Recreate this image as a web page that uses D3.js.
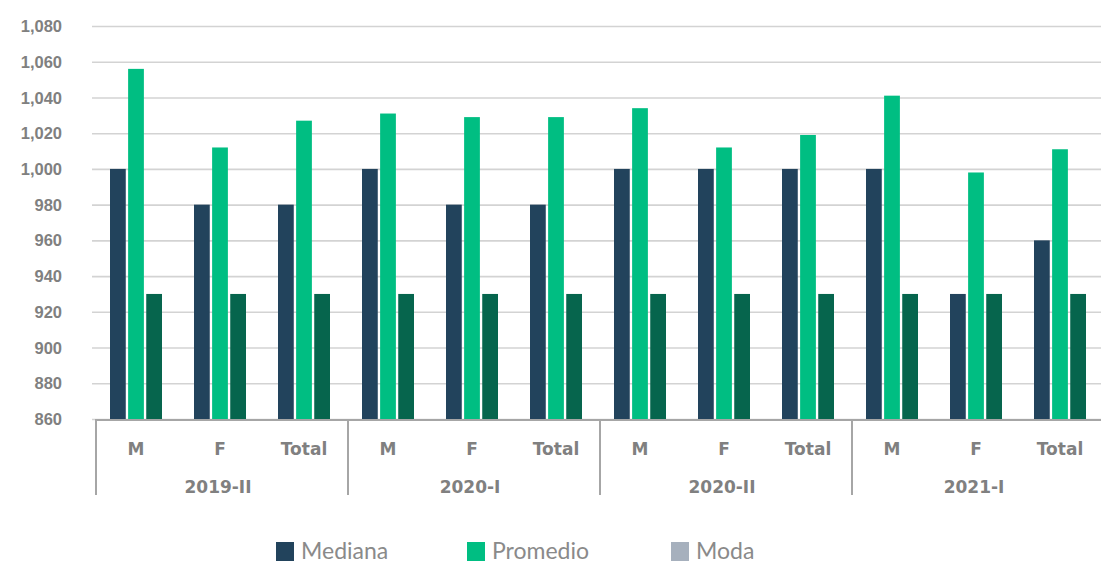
<!DOCTYPE html>
<html>
<head>
<meta charset="utf-8">
<script src="https://cdn.jsdelivr.net/npm/d3@7"></script>
<style>
  body { margin: 0; background: #fff; }
  svg { display: block; font-family: "DejaVu Sans", sans-serif; }
</style>
</head>
<body>
<div id="chart"></div>
<script>
// Data
const groups = ["2019-II", "2020-I", "2020-II", "2021-I"];
const subcats = ["M", "F", "Total"];
const series = ["Mediana", "Promedio", "Moda"];
const mediana = [1000, 980, 980, 1000, 980, 980, 1000, 1000, 1000, 1000, 930, 960];
const promedio = [1056, 1012, 1027, 1031, 1029, 1029, 1034, 1012, 1019, 1041, 998, 1011];
const moda = [930, 930, 930, 930, 930, 930, 930, 930, 930, 930, 930, 930];
const yTicks = [860, 880, 900, 920, 940, 960, 980, 1000, 1020, 1040, 1060, 1080];

const barColors = ["#22435c", "#00be82", "#06654d"];
const legendColors = ["#22435c", "#00be82", "#a6b0bd"];

const w = 1101, h = 564;
const x_left = 96, x_right = 1104;
const y_top = 26, y_bottom = 419;

const svg = d3.select("#chart").append("svg")
    .attr("width", w)
    .attr("height", h);

// one row per category (group x subcat)
const rows = [];
groups.forEach((g, gi) => {
    subcats.forEach((s, si) => {
        const i = gi * subcats.length + si;
        rows.push({ key: g + "|" + s, group: g, sub: s, vals: [mediana[i], promedio[i], moda[i]] });
    });
});

const x0 = d3.scaleBand()
    .domain(rows.map(d => d.key))
    .range([x_left, x_right]);

// cluster of 3 bars, 15px wide each
const x1 = d3.scaleBand()
    .domain(series)
    .range([0, 52])
    .paddingInner(0.13);

const yScale = d3.scaleLinear()
    .domain([860, 1080])
    .range([y_bottom, y_top]);

// gridlines
const yAxis = d3.axisLeft(yScale)
    .tickValues(yTicks)
    .tickSize(-(w - 92))
    .tickFormat(d3.format(","));

const gy = svg.append("g")
    .attr("transform", "translate(92,0)")
    .call(yAxis);
gy.select(".domain").remove();
gy.selectAll(".tick line")
    .attr("stroke", "#d3d3d3")
    .attr("stroke-width", 1.6);
gy.selectAll(".tick text")
    .attr("x", -30)
    .attr("dy", "0.34em")
    .attr("fill", "#808080")
    .attr("font-size", 16.5)
    .attr("font-weight", 700);

// bars
const clusterOffset = (x0.bandwidth() - 52) / 2 - 2;
const cat = svg.append("g")
    .selectAll("g")
    .data(rows)
    .enter()
    .append("g")
    .attr("transform", d => "translate(" + (x0(d.key) + clusterOffset) + ",0)");

cat.selectAll("rect")
    .data(d => d.vals.map((v, i) => ({ s: series[i], v: v, i: i })))
    .enter()
    .append("rect")
        .attr("x", d => x1(d.s))
        .attr("width", x1.bandwidth())
        .attr("y", d => yScale(d.v))
        .attr("height", d => yScale(860) - yScale(d.v))
        .attr("fill", d => barColors[d.i]);

// category axis
svg.append("line")
    .attr("x1", x_left).attr("x2", w)
    .attr("y1", y_bottom + 1).attr("y2", y_bottom + 1)
    .attr("stroke", "#a6a6a6")
    .attr("stroke-width", 2);

const groupStep = x0.step() * subcats.length;
svg.append("g")
    .selectAll("line")
    .data(d3.range(groups.length + 1))
    .enter()
    .append("line")
        .attr("x1", d => x_left + d * groupStep)
        .attr("x2", d => x_left + d * groupStep)
        .attr("y1", y_bottom)
        .attr("y2", 495)
        .attr("stroke", "#a6a6a6")
        .attr("stroke-width", 2);

svg.append("g")
    .selectAll("text")
    .data(rows)
    .enter()
    .append("text")
        .attr("text-anchor", "middle")
        .attr("x", d => x0(d.key) + clusterOffset + 26)
        .attr("y", 455)
        .attr("fill", "#808080")
        .attr("font-size", 17)
        .attr("font-weight", 700)
        .text(d => d.sub);

svg.append("g")
    .selectAll("text")
    .data(groups)
    .enter()
    .append("text")
        .attr("text-anchor", "middle")
        .attr("x", (d, i) => x_left + (i + 0.5) * groupStep - 4)
        .attr("y", 493)
        .attr("fill", "#808080")
        .attr("font-size", 17)
        .attr("font-weight", 700)
        .text(d => d);

// legend
const legendX = [276, 467, 671];
const legend = svg.append("g")
    .selectAll("g")
    .data(series)
    .enter()
    .append("g")
    .attr("transform", (d, i) => "translate(" + legendX[i] + ",542)");

legend.append("rect")
    .attr("width", 18)
    .attr("height", 19)
    .attr("fill", (d, i) => legendColors[i]);

legend.append("text")
    .attr("x", 25)
    .attr("y", 17)
    .attr("fill", "#8a8a8a")
    .attr("font-family", "Lato, sans-serif")
    .attr("font-size", 23)
    .text(d => d);
</script>
</body>
</html>
